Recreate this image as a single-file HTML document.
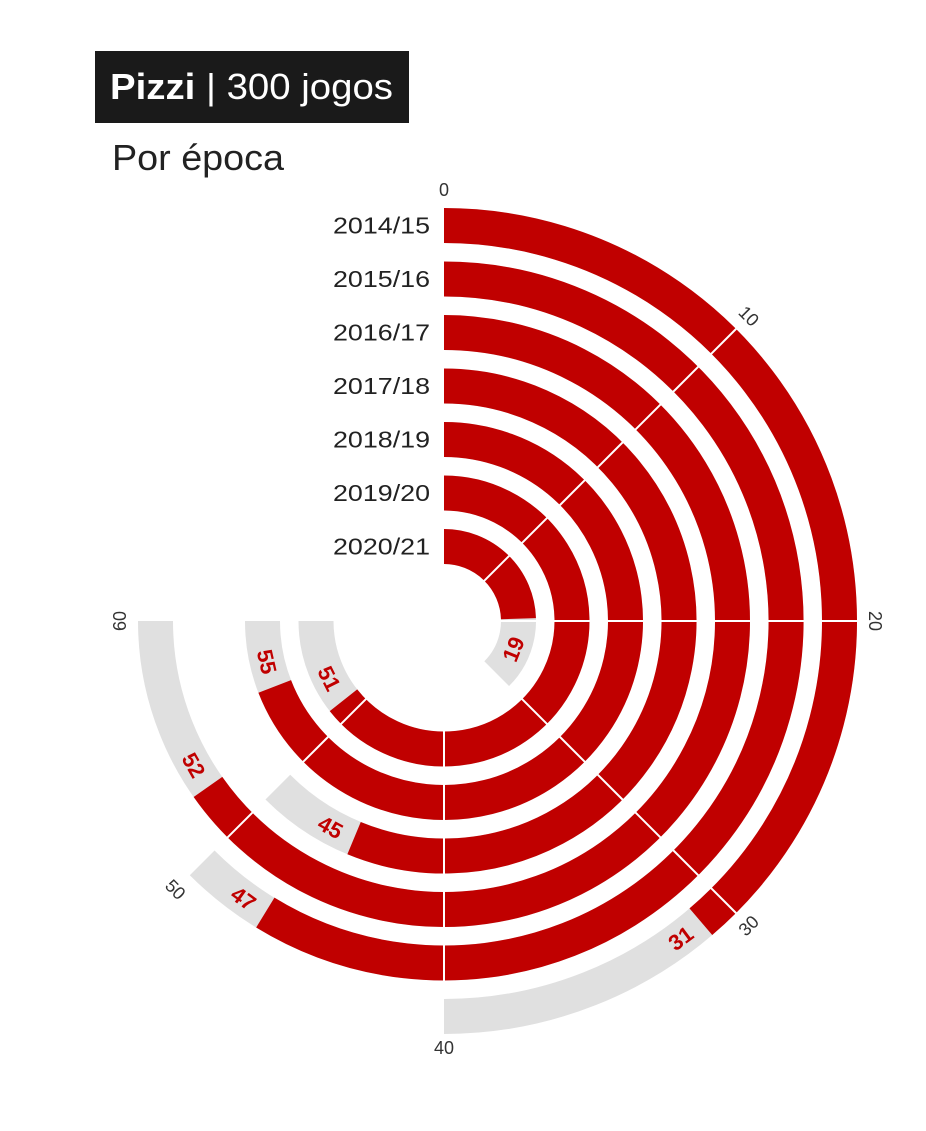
<!DOCTYPE html>
<html><head><meta charset="utf-8"><style>
body{margin:0;background:#fff;width:926px;height:1126px;overflow:hidden;font-family:"Liberation Sans",sans-serif}
</style></head><body>
<svg id="s" width="926" height="1126" xmlns="http://www.w3.org/2000/svg">
<rect x="95" y="51" width="314" height="72" fill="#1a1a1a"/>
<text x="110" y="99" font-size="36" fill="#fff" textLength="283" lengthAdjust="spacingAndGlyphs"><tspan font-weight="bold">Pizzi</tspan> | 300 jogos</text>
<text x="112" y="170" font-size="36" fill="#222" textLength="172" lengthAdjust="spacingAndGlyphs">Por época</text>
</svg>
<script>
const s=document.getElementById('s'),NS='http://www.w3.org/2000/svg';
const cx=444,cy=621;
function el(t,a,txt){const e=document.createElementNS(NS,t);for(const k in a)e.setAttribute(k,a[k]);if(txt!==undefined)e.textContent=txt;s.appendChild(e);return e;}
function pt(r,v){const a=v*4.5*Math.PI/180;return [cx+r*Math.sin(a),cy-r*Math.cos(a)];}
function arc(r,v0,v1,col,w){const p0=pt(r,v0),p1=pt(r,v1);const large=(v1-v0)*4.5>180?1:0;
el('path',{d:`M${p0[0]} ${p0[1]} A${r} ${r} 0 ${large} 1 ${p1[0]} ${p1[1]}`,fill:'none',stroke:col,'stroke-width':w});}
const years=['2014/15','2015/16','2016/17','2017/18','2018/19','2019/20','2020/21'];
const vals=[31,47,52,45,55,51,19];
const ends=[31,47,52.2,45,55.3,51.5,19.6];
const gray=[40,50,60,50,60,60,30];
for(let i=0;i<7;i++){
 const ro=413-53.5*i,rm=ro-17.5,v=ends[i],g=gray[i];
 arc(rm,0,g,'#e0e0e0',35);
 arc(rm,0,v,'#c00000',35);
 for(let t=10;t<g;t+=10){const a=pt(ro+1,t),b=pt(ro-36,t);el('line',{x1:a[0],y1:a[1],x2:b[0],y2:b[1],stroke:'#fff','stroke-width':2});}
 el('text',{x:430,y:cy-rm+8,'font-size':23,'text-anchor':'end',fill:'#222',textLength:97,lengthAdjust:'spacingAndGlyphs'},years[i]);
 const off=(i==6?5.3:(26/rm)*180/Math.PI/4.5);
 const lv=v+off,p=pt(rm,lv);let ang=lv*4.5;if(ang>90&&ang<270)ang-=180;
 el('text',{x:p[0],y:p[1]+8,'font-size':22,'font-weight':'bold','text-anchor':'middle',fill:'#c00000',transform:`rotate(${ang} ${p[0]} ${p[1]})`},vals[i]);
}
const lr={0:431,10:431,20:431,30:431,40:427,50:380,60:324};
[0,10,20,30,40,50,60].forEach(t=>{const p=pt(lr[t],t);let ang=t*4.5;if(ang>90&&ang<270)ang-=180;
 el('text',{x:p[0],y:p[1]+6,'font-size':18,'text-anchor':'middle',fill:'#333',transform:`rotate(${ang} ${p[0]} ${p[1]})`},t);});
</script>
</body></html>
